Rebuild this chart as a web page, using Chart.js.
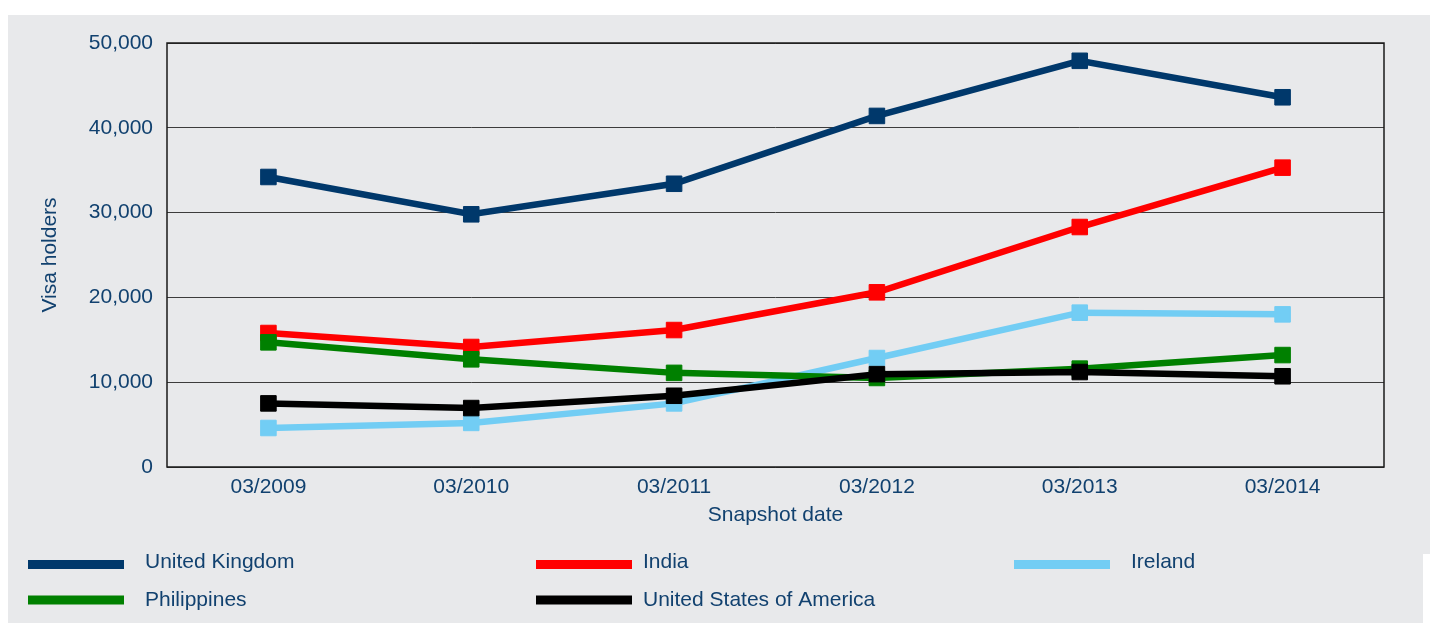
<!DOCTYPE html>
<html>
<head>
<meta charset="utf-8">
<script src="https://cdn.jsdelivr.net/npm/chart.js@4"></script>
<style>
  html, body { margin: 0; padding: 0; background: #fff; }
  #wrap { width: 1434px; height: 623px; position: relative; }
</style>
</head>
<body>
<div id="wrap"><canvas id="myChart"></canvas></div>
<script>
const labels = ['03/2009', '03/2010', '03/2011', '03/2012', '03/2013', '03/2014'];

const seriesNames = ['United Kingdom', 'India', 'Ireland', 'Philippines', 'United States of America'];
const seriesColors = ['#00386b', '#ff0000', '#72cdf4', '#008000', '#000000'];

const ukValues = [34200, 29800, 33400, 41400, 47900, 43600];
const indiaValues = [15800, 14150, 16150, 20600, 28300, 35300];
const irelandValues = [4600, 5200, 7500, 12850, 18200, 18000];
const philippinesValues = [14700, 12700, 11100, 10500, 11600, 13200];
const usaValues = [7500, 6950, 8400, 10950, 11200, 10700];

const yTicks = [0, 10000, 20000, 30000, 40000, 50000];

const allValues = [ukValues, indiaValues, irelandValues, philippinesValues, usaValues];

const textColor = '#11416f';
const fontFamily = "'Liberation Sans', Arial, sans-serif";

const data = {
    labels: labels,
    datasets: seriesNames.map((name, i) => ({
        label: name,
        data: allValues[i],
        borderColor: seriesColors[i],
        backgroundColor: seriesColors[i],
        borderWidth: 6.5,
        tension: 0,
        pointStyle: 'rect',
        pointRadius: 11,
        pointHoverRadius: 11,
        pointBorderWidth: 1,
        pointBackgroundColor: seriesColors[i],
        pointBorderColor: seriesColors[i],
        order: seriesNames.length - i
    }))
};

// grey panel behind everything + frame round the plot
const backdrop = {
    id: 'backdrop',
    beforeDraw(chart) {
        const ctx = chart.ctx;
        ctx.save();
        ctx.fillStyle = '#ffffff';
        ctx.fillRect(0, 0, chart.width, chart.height);
        ctx.fillStyle = '#e8e9eb';
        ctx.fillRect(8, 15, 1422, 539);
        ctx.fillRect(8, 554, 1415, chart.height - 554);
        ctx.restore();
    },
    afterDatasetsDraw(chart) {
        const a = chart.chartArea;
        const ctx = chart.ctx;
        ctx.save();
        ctx.strokeStyle = '#1a1a1a';
        ctx.lineWidth = 1.5;
        ctx.strokeRect(a.left, a.top, a.right - a.left, a.bottom - a.top);
        ctx.restore();
    }
};

// legend laid out in three columns like the original
const gridLegend = {
    id: 'gridLegend',
    afterDraw(chart) {
        const ctx = chart.ctx;
        const colX = [28, 536, 1014];
        const textX = [145, 643, 1131];
        const rowY = [564.5, 600];
        const textY = [562, 600.5];
        ctx.save();
        ctx.font = '21px ' + fontFamily;
        ctx.textBaseline = 'middle';
        ctx.textAlign = 'left';
        chart.data.datasets.forEach((ds, i) => {
            const c = i % 3;
            const r = Math.floor(i / 3);
            ctx.fillStyle = ds.borderColor;
            ctx.fillRect(colX[c], rowY[r] - 4.5, 96, 9);
            ctx.fillStyle = textColor;
            ctx.fillText(ds.label, textX[c], textY[r]);
        });
        ctx.restore();
    }
};

const config = {
    type: 'line',
    data: data,
    options: {
        responsive: true,
        maintainAspectRatio: false,
        animation: false,
        events: [],
        layout: {
            padding: { left: 0, top: 43, right: 50, bottom: 95 }
        },
        plugins: {
            legend: { display: false },
            tooltip: { enabled: false }
        },
        scales: {
            x: {
                offset: true,
                grid: { display: false, drawTicks: false },
                border: { display: false },
                ticks: {
                    color: textColor,
                    padding: 8,
                    maxRotation: 0,
                    font: { family: fontFamily, size: 21 }
                },
                title: {
                    display: true,
                    text: 'Snapshot date',
                    color: textColor,
                    padding: { top: 0, bottom: 0 },
                    font: { family: fontFamily, size: 21 }
                },
                afterFit(scale) { scale.height = 61; }
            },
            y: {
                min: 0,
                max: 50000,
                afterBuildTicks(scale) {
                    scale.ticks = yTicks.map(v => ({ value: v }));
                },
                grid: { color: '#3c3c3c', lineWidth: 1, drawTicks: false },
                border: { display: false },
                ticks: {
                    color: textColor,
                    padding: 14,
                    font: { family: fontFamily, size: 21 },
                    callback: v => v.toLocaleString('en-US')
                },
                title: {
                    display: true,
                    text: 'Visa holders',
                    color: textColor,
                    padding: { top: 38, bottom: 0 },
                    font: { family: fontFamily, size: 21 }
                },
                afterFit(scale) { scale.width = 167; }
            }
        }
    },
    plugins: [backdrop, gridLegend]
};

const myChart = new Chart(
    document.getElementById('myChart'),
    config
);
</script>
</body>
</html>
